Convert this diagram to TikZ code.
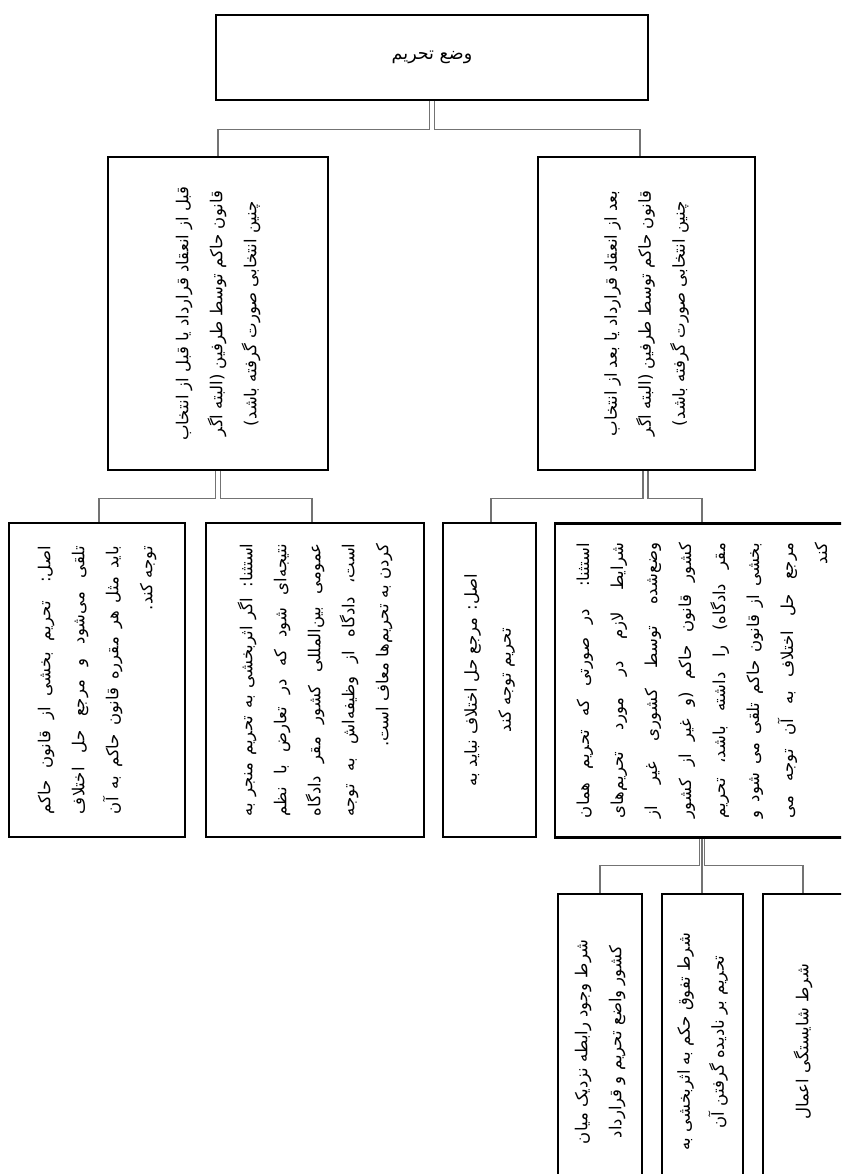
\documentclass[tikz,border=0pt]{standalone}
\usepackage{fontspec}
\usepackage{graphicx}
\newfontfamily\arabicfont[Script=Arabic]{DejaVu Sans}
\TeXXeTstate=1
\usetikzlibrary{backgrounds}

% one line of right-to-left text: justified, last (start aligned), centred
\newcommand\jl[1]{\hbox to \linewidth{\beginR #1\endR}}
\newcommand\lastl[1]{\hbox to \linewidth{\hfill\beginR #1\endR}}
\newcommand\cl[1]{\hbox to \linewidth{\hfil\beginR #1\endR\hfil}}
% text turned to read from top to bottom
\newcommand\rottext[2]{\rotatebox{90}{\parbox{#1}{\arabicfont\fontsize{16.5}{34}\selectfont #2}}}

\begin{document}
\begin{tikzpicture}[x=1pt, y=-1pt,
    box/.style={draw, line width=2.4pt, inner sep=0pt, fill=white},
    link/.style={draw=black!55, line width=1.3pt}]
\path[use as bounding box, clip] (0,0) rectangle (841,1174);

% ---- top
\node[box, minimum width=432pt, minimum height=85pt] (root) at (432,57.5)
    {\arabicfont\fontsize{17.5}{20}\selectfont\beginR وضع تحریم\endR};

% ---- before / after the contract
\node[box, minimum width=220pt, minimum height=313pt] (before) at (218,313.5) {\rottext{290pt}{%
    \cl{قبل از انعقاد قرارداد یا قبل از انتخاب}%
    \cl{قانون حاکم توسط طرفین (البته اگر}%
    \cl{چنین انتخابی صورت گرفته باشد)}}};
\node[box, minimum width=217pt, minimum height=313pt] (after) at (646.5,313.5) {\rottext{290pt}{%
    \cl{بعد از انعقاد قرارداد یا بعد از انتخاب}%
    \cl{قانون حاکم توسط طرفین (البته اگر}%
    \cl{چنین انتخابی صورت گرفته باشد)}}};

% ---- rule and exception, before
\node[box, minimum width=176pt, minimum height=314pt] (beforeRule) at (97,680) {\rottext{268pt}{%
    \jl{اصل: تحریم بخشی از قانون حاکم}%
    \jl{تلقی می‌شود و مرجع حل اختلاف}%
    \jl{باید مثل هر مقرره قانون حاکم به آن}%
    \lastl{توجه کند.}}};
\node[box, minimum width=218pt, minimum height=314pt] (beforeExc) at (315,680) {\rottext{273pt}{%
    \jl{استثنا: اگر اثربخشی به تحریم منجر به}%
    \jl{نتیجه‌ای شود که در تعارض با نظم}%
    \jl{عمومی بین‌المللی کشور مقر دادگاه}%
    \jl{است، دادگاه از وظیفه‌اش به توجه}%
    \lastl{کردن به تحریم‌ها معاف است.}}};

% ---- rule and exception, after
\node[box, minimum width=93pt, minimum height=314pt] (afterRule) at (489.5,680) {\rottext{290pt}{%
    \cl{اصل: مرجع حل اختلاف نباید به}%
    \cl{تحریم توجه کند}}};
\node[box, minimum width=294pt, minimum height=314pt] (afterExc) at (702,680.5) {\rottext{275pt}{%
    \jl{استثنا: در صورتی که تحریم همان}%
    \jl{شرایط لازم در مورد تحریم‌های}%
    \jl{وضع‌شده توسط کشوری غیر از}%
    \jl{کشور قانون حاکم (و غیر از کشور}%
    \jl{مقر دادگاه) را داشته باشد، تحریم}%
    \jl{بخشی از قانون حاکم تلقی می شود و}%
    \jl{مرجع حل اختلاف به آن توجه می}%
    \lastl{کند}}};

% ---- conditions
\node[box, minimum width=84pt, minimum height=296pt] (condLink) at (600,1042) {\rottext{290pt}{%
    \cl{شرط وجود رابطه نزدیک میان}%
    \cl{کشور واضع تحریم و قرارداد}}};
\node[box, minimum width=81pt, minimum height=296pt] (condPriority) at (702.5,1042) {\rottext{290pt}{%
    \cl{شرط تفوق حکم به اثربخشی به}%
    \cl{تحریم بر نادیده گرفتن آن}}};
\node[box, minimum width=80pt, minimum height=296pt] (condFit) at (803,1042) {\rottext{290pt}{%
    \cl{شرط شایستگی اعمال}}};

\begin{scope}[on background layer]
\draw[link] ([xshift=-2.5pt]root.south) -- ++(0,28) -| (before.north);
\draw[link] ([xshift=2.5pt]root.south) -- ++(0,28) -| ([xshift=-6.5pt]after.north);
\draw[link] ([xshift=-2.5pt]before.south) -- ++(0,27) -| ([xshift=2pt]beforeRule.north);
\draw[link] ([xshift=2.5pt]before.south) -- ++(0,27) -| ([xshift=-3pt]beforeExc.north);
\draw[link] ([xshift=-3.5pt]after.south) -- ++(0,27) -| ([xshift=1.5pt]afterRule.north);
\draw[link] ([xshift=1.5pt]after.south) -- ++(0,27) -| (afterExc.north);
\draw[link] ([xshift=-2.5pt]afterExc.south) -- ++(0,27) -| (condLink.north);
\draw[link] (afterExc.south) -- (afterExc.south |- condPriority.north);
\draw[link] ([xshift=2.5pt]afterExc.south) -- ++(0,27) -| (condFit.north);
\end{scope}
\end{tikzpicture}
\end{document}
